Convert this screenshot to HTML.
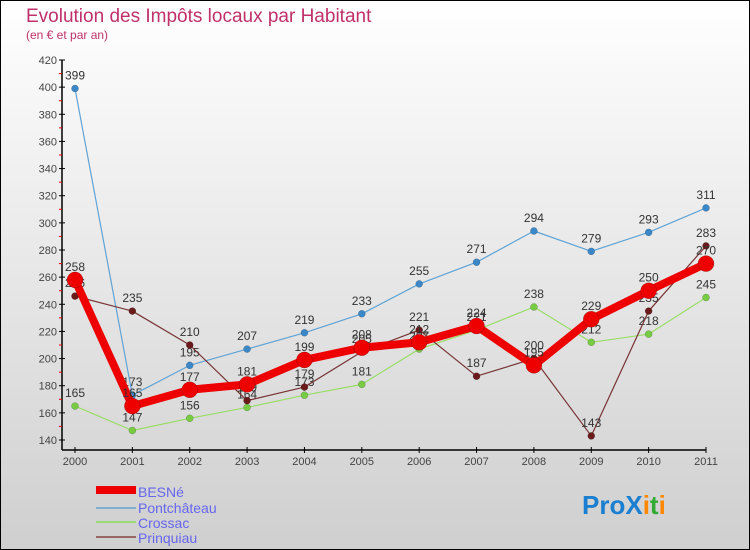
<!DOCTYPE html>
<html><head><meta charset="utf-8"><style>
body{margin:0;padding:0;}
svg{display:block;font-family:"Liberation Sans",sans-serif;}
</style></head><body>
<svg id="chart" width="750" height="550" viewBox="0 0 750 550" xmlns="http://www.w3.org/2000/svg">
<defs>
<linearGradient id="bg" x1="0" y1="0" x2="0" y2="1"><stop offset="0" stop-color="#ffffff"/><stop offset="1" stop-color="#cfcfcf"/></linearGradient>
</defs>
<rect x="0.5" y="0.5" width="749" height="549" fill="url(#bg)" stroke="#000"/>
<text x="26" y="22" font-size="19" fill="#c0306a">Evolution des Impôts locaux par Habitant</text>
<text x="26" y="39" font-size="12" fill="#c0306a">(en € et par an)</text>
<g id="axes"></g>
<g id="series"></g>
<g id="legend">
<rect x="96" y="486" width="40" height="8" fill="#e00"/>
<text x="138" y="497" font-size="14" fill="#6666ee">BESNé</text>
<line x1="96" y1="508" x2="136" y2="508" stroke="#7fb0d0" stroke-width="2"/>
<text x="138" y="513" font-size="14" fill="#6666ee">Pontchâteau</text>
<line x1="96" y1="522" x2="136" y2="522" stroke="#99dd77" stroke-width="2"/>
<text x="138" y="528" font-size="14" fill="#6666ee">Crossac</text>
<line x1="96" y1="537" x2="136" y2="537" stroke="#996666" stroke-width="2"/>
<text x="138" y="543" font-size="14" fill="#6666ee">Prinquiau</text>
</g>
<text x="582" y="514" font-size="26" font-weight="bold"><tspan fill="#1a7fd0">Pro</tspan><tspan fill="#1a7fd0">X</tspan><tspan fill="#ff8800">i</tspan><tspan fill="#33aa33">t</tspan><tspan fill="#ff8800">i</tspan></text>
</svg>
<script>
const years = ["2000","2001","2002","2003","2004","2005","2006","2007","2008","2009","2010","2011"];
const besne = [258,165,177,181,199,208,212,224,195,229,250,270];
const pontchateau = [399,173,195,207,219,233,255,271,294,279,293,311];
const crossac = [165,147,156,164,173,181,207,221,238,212,218,245];
const prinquiau = [246,235,210,169,179,205,221,187,200,143,235,283];
const yTicks = [140,160,180,200,220,240,260,280,300,320,340,360,380,400,420];

const NS="http://www.w3.org/2000/svg";
const yMin=140,yMax=420,yTop=60,yBot=440,xL=75,xR=706;
function yS(v){return yBot-(v-yMin)/(yMax-yMin)*(yBot-yTop);}
function xS(i){return xL+i*(xR-xL)/(years.length-1);}
function mk(tag,attrs,parent){const e=document.createElementNS(NS,tag);for(const k in attrs)e.setAttribute(k,attrs[k]);parent.appendChild(e);return e;}
const axes=document.getElementById('axes');
const ya=mk('line',{x1:62,y1:yTop,x2:62,y2:450,stroke:'#000','stroke-width':1.5},axes);


const xa=mk('line',{x1:62,y1:450,x2:xR,y2:450,stroke:'#000','stroke-width':1.5},axes);


yTicks.forEach((t,i)=>{
  const y=yS(t);
  const tk=mk('line',{x1:59,y1:y,x2:65,y2:y,stroke:'#000'},axes);
  
  
  const lb=mk('text',{x:57,y:y+4,'font-size':11,'text-anchor':'end',fill:'#444'},axes);
  lb.textContent=t;
  
  
  if(i<yTicks.length-1){
    const ym=yS(t+10);
    const mt=mk('line',{x1:59,y1:ym,x2:62,y2:ym,stroke:'#e00'},axes);
    
    
  }
});
years.forEach((yr,i)=>{
  const x=xS(i);
  const tk=mk('line',{x1:x,y1:447,x2:x,y2:453,stroke:'#000'},axes);
  
  
  const lb=mk('text',{x:x,y:465,'font-size':11,'text-anchor':'middle',fill:'#444'},axes);
  lb.textContent=yr;
  
  
});
const sg=document.getElementById('series');
function drawSeries(name,vals,color,dot,w,r){
  const g=mk('g',{},sg);
  
  
  const pl=mk('polyline',{points:vals.map((v,i)=>xS(i)+','+yS(v)).join(' '),fill:'none',stroke:color,'stroke-width':w,'stroke-linejoin':'round'},g);
  
  
  vals.forEach((v,i)=>{
    const c=mk('circle',{cx:xS(i),cy:yS(v),r:r,fill:dot,stroke:'rgba(0,0,0,0.3)','stroke-width':0.5},g);
    
    
    const t=mk('text',{x:xS(i),y:yS(v)-9,'font-size':12,'text-anchor':'middle',fill:'#333'},g);
    t.textContent=v;
    
    
  });
}
drawSeries('pontchateau',pontchateau,'#5fa3d6','#3a88c8',1.2,3.5);
drawSeries('crossac',crossac,'#99dd66','#77cc44',1.2,3.5);
drawSeries('prinquiau',prinquiau,'#773333','#6a1a1a',1.2,3.5);
drawSeries('besne',besne,'#ee0000','#ee0000',8,8);
</script>
</body></html>
